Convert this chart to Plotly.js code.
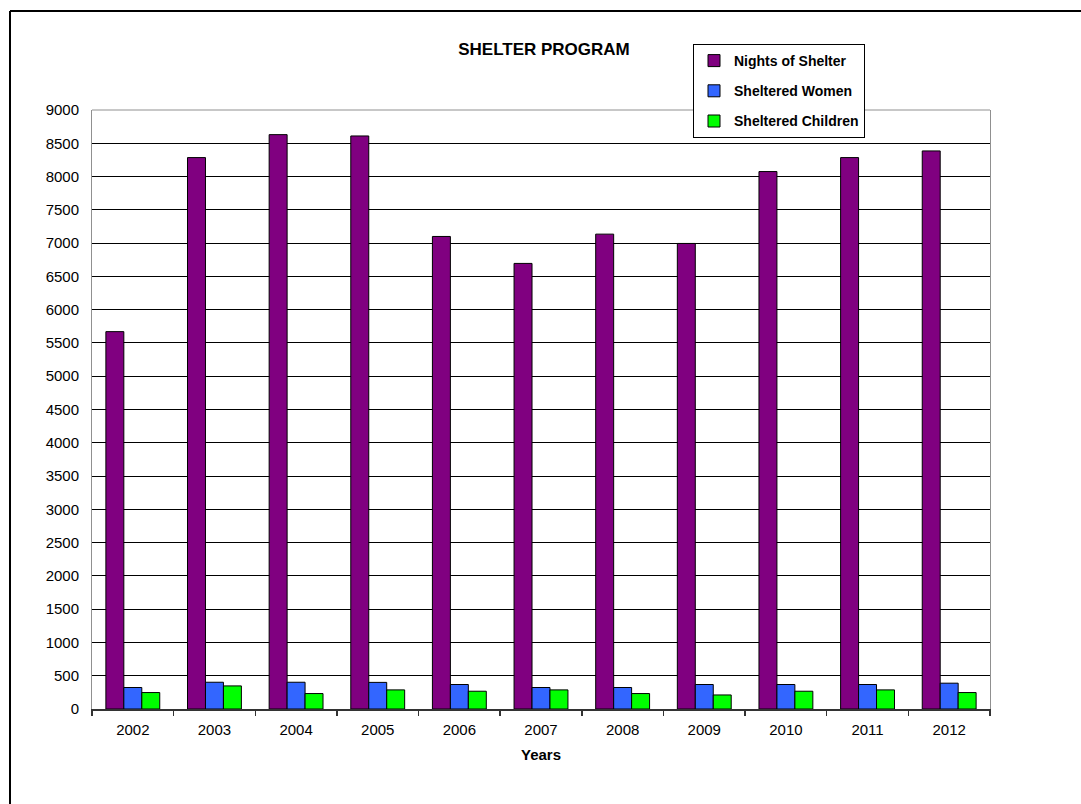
<!DOCTYPE html>
<html>
<head>
<meta charset="utf-8">
<script src="https://cdn.plot.ly/plotly-3.0.1.min.js"></script>
<style>html,body{margin:0;padding:0;background:#fff;}#chart{width:1081px;height:804px;}</style>
</head>
<body>
<div id="chart"></div>
<script>
const years = ['2002','2003','2004','2005','2006','2007','2008','2009','2010','2011','2012'];
const nightsOfShelter = [5670, 8285, 8630, 8610, 7100, 6695, 7135, 6995, 8075, 8285, 8385];
const shelteredWomen = [323, 402, 402, 400, 368, 323, 323, 368, 368, 368, 388];
const shelteredChildren = [247, 347, 232, 287, 267, 287, 232, 211, 267, 287, 247];
const yTicks = [0,500,1000,1500,2000,2500,3000,3500,4000,4500,5000,5500,6000,6500,7000,7500,8000,8500,9000];

const FONT = 'Liberation Sans, Arial, sans-serif';
const mk = (name, y, color, g) => ({
  type: 'bar', name: name, x: years, y: y, legendgroup: g,
  marker: {color: color, line: {color: '#000000', width: 1}}
});
const data = [
  mk('Nights of Shelter', nightsOfShelter, '#800080', 'a'),
  mk('Sheltered Women', shelteredWomen, '#3366FF', 'b'),
  mk('Sheltered Children', shelteredChildren, '#00FF00', 'c')
];
const layout = {
  width: 1081, height: 804,
  margin: {l: 92, r: 91, t: 110, b: 95},
  paper_bgcolor: '#ffffff', plot_bgcolor: '#ffffff',
  font: {family: FONT, size: 15, color: '#000'},
  barmode: 'group', bargap: 0.34, bargroupgap: 0,
  title: {text: '<b>SHELTER PROGRAM</b>', x: 544/1081, xanchor: 'center', xref: 'container',
          y: 1 - 49/804, yanchor: 'middle', yref: 'container',
          font: {family: FONT, size: 17, color: '#000'}},
  showlegend: true,
  legend: {x: (693-92)/898, xanchor: 'left', y: (709-44)/599, yanchor: 'top',
           bordercolor: '#000', borderwidth: 1, bgcolor: '#fff',
           font: {family: FONT, size: 14, color: '#000', weight: 'bold'},
           tracegroupgap: 9, traceorder: 'grouped'},
  xaxis: {type: 'category', tickvals: years, ticktext: years,
          showline: true, linecolor: '#333', linewidth: 1.5,
          ticks: 'outside', tickson: 'boundaries', ticklen: 5, tickcolor: '#333', tickwidth: 1.5,
          ticklabelstandoff: 6,
          tickfont: {family: FONT, size: 15}, showgrid: false,
          title: {text: '<b>Years</b>', font: {family: FONT, size: 15}, standoff: 13}},
  yaxis: {range: [0, 9000], tickvals: yTicks, ticktext: yTicks.map(String),
          showline: true, mirror: true, linecolor: '#909090', linewidth: 1,
          ticks: '', ticklabelstandoff: 9,
          showgrid: true, gridcolor: '#000', gridwidth: 1, zeroline: false,
          tickfont: {family: FONT, size: 15}},
  shapes: [
    {type: 'line', xref: 'paper', yref: 'paper', x0: 0, x1: 1, y0: 1, y1: 1,
     line: {color: '#909090', width: 1}, layer: 'above'},
    {type: 'line', xref: 'paper', yref: 'paper', x0: (10-92)/898, x1: (10-92)/898, y0: 1 + 99/599, y1: -0.2,
     line: {color: '#000', width: 2}},
    {type: 'line', xref: 'paper', yref: 'paper', x0: (10-92)/898, x1: 1.2, y0: 1 + 99/599, y1: 1 + 99/599,
     line: {color: '#000', width: 2}}
  ]
};
Plotly.newPlot('chart', data, layout, {displayModeBar: false, staticPlot: true});
</script>
</body>
</html>
